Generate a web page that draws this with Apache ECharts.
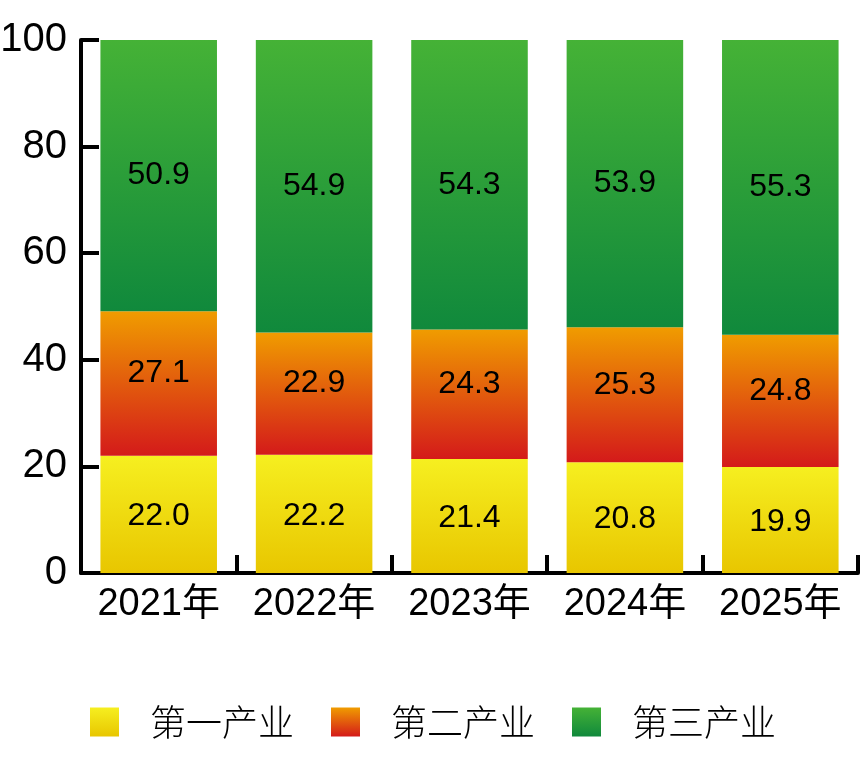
<!DOCTYPE html>
<html>
<head>
<meta charset="utf-8">
<script src="https://cdn.jsdelivr.net/npm/echarts@6/dist/echarts.min.js"></script>
<style>
  html, body { margin: 0; padding: 0; background: #fff; }
  #chart { width: 866px; height: 761px; }
</style>
</head>
<body>
<div id="chart"></div>
<script>
// 产业结构 (%)
var years = ['2021年', '2022年', '2023年', '2024年', '2025年']
var primary = [22.0, 22.2, 21.4, 20.8, 19.9]
var secondary = [27.1, 22.9, 24.3, 25.3, 24.8]
var tertiary = [50.9, 54.9, 54.3, 53.9, 55.3]
var names = ['第一产业', '第二产业', '第三产业']

var latin = 'Liberation Sans, Arial, Noto Sans CJK SC, sans-serif'

function grad(top, bottom) {
  return new echarts.graphic.LinearGradient(0, 0, 0, 1, [
    { offset: 0, color: top },
    { offset: 1, color: bottom }
  ])
}

function barSeries(name, data, color, dy) {
  return {
    name: name,
    type: 'bar',
    stack: 'total',
    barCategoryGap: '25%',
    data: data,
    itemStyle: { color: color },
    label: {
      show: true,
      position: 'inside',
      offset: [0, dy],
      color: '#000',
      fontSize: 32,
      fontFamily: latin,
      formatter: function (p) { return p.value.toFixed(1) }
    }
  }
}

var chart = echarts.init(document.getElementById('chart'))
chart.setOption({
  animation: false,
  grid: { left: 81, right: 8, top: 40, bottom: 188, containLabel: false, outerBoundsMode: 'none' },
  legend: {
    data: names,
    left: 'center',
    top: 699,
    itemWidth: 29,
    itemHeight: 29,
    itemGap: 37,
    icon: 'rect',
    textStyle: {
      fontSize: 36,
      color: '#000',
      fontFamily: 'Noto Sans CJK SC',
      fontWeight: 300,
      padding: [0, 0, 0, 26]
    }
  },
  xAxis: {
    type: 'category',
    data: years,
    axisLine: { lineStyle: { color: '#000', width: 4 } },
    axisTick: { show: true, interval: 0, inside: true, length: 18, lineStyle: { color: '#000', width: 4 } },
    axisLabel: { color: '#000', fontSize: 38, margin: 13, interval: 0, hideOverlap: false, fontFamily: latin }
  },
  yAxis: {
    type: 'value',
    min: 0,
    max: 100,
    interval: 20,
    splitLine: { show: false },
    axisLine: { show: true, lineStyle: { color: '#000', width: 4 } },
    axisTick: { show: true, inside: true, length: 18, lineStyle: { color: '#000', width: 4 } },
    axisLabel: { color: '#000', fontSize: 40, margin: 14, fontFamily: latin }
  },
  series: [
    barSeries(names[0], primary, grad('#f6ef20', '#e8c600'), 2),
    barSeries(names[1], secondary, grad('#f09c00', '#d41a1a'), -10),
    barSeries(names[2], tertiary, grad('#45b236', '#10893c'), 0)
  ]
})
</script>
</body>
</html>
